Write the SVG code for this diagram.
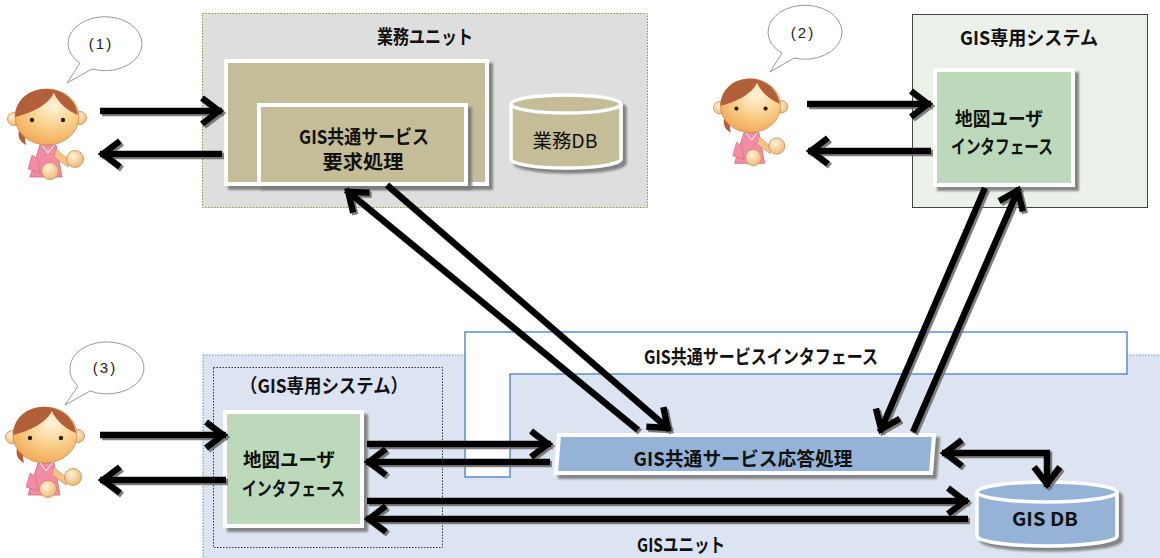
<svg xmlns="http://www.w3.org/2000/svg" xmlns:xlink="http://www.w3.org/1999/xlink" width="1160" height="558" viewBox="0 0 1160 558">
  <style>
    .t { font-family: "Noto Sans CJK JP", "Liberation Sans", sans-serif; font-weight: bold; font-size: 19px; fill: #111; dominant-baseline: central; }
    .c { text-anchor: middle; }
    .n { font-weight: normal; }
    .bub { font-family: "Liberation Sans", sans-serif; font-size: 15px; fill: #222; text-anchor: middle; dominant-baseline: central; letter-spacing: 2px; }
    .arrow { fill: none; stroke: #000; stroke-width: 6.5; marker-end: url(#ah); }
    .box { stroke: #fff; stroke-width: 4; filter: url(#boxsh); }
    .tan { fill: #c4bd97; }
    .green { fill: #bcd9bc; }
    .blue { fill: #95b3d7; }
    .bubble { fill: #fff; stroke: #9a9a9a; stroke-width: 1; }
  </style>
  <defs>
    <marker id="ah" viewBox="-26 -16 30 32" markerWidth="30" markerHeight="32" refX="0" refY="0" orient="auto-start-reverse" markerUnits="userSpaceOnUse" overflow="visible">
      <path d="M-20,-13 L-3,0 L-20,13" fill="none" stroke="#000" stroke-width="6.5"/>
    </marker>
    <filter id="arrsh" x="-10%" y="-10%" width="120%" height="120%">
      <feDropShadow dx="2" dy="2" stdDeviation="0.6" flood-color="#6f6f6f" flood-opacity="0.9"/>
    </filter>
    <filter id="boxsh" x="-10%" y="-10%" width="125%" height="130%">
      <feDropShadow dx="4" dy="4" stdDeviation="0.8" flood-color="#7a7a7a" flood-opacity="0.9"/>
    </filter>
    <radialGradient id="face" cx="0.6" cy="0.3" r="0.8">
      <stop offset="0" stop-color="#fff3dc"/>
      <stop offset="0.45" stop-color="#fbd28f"/>
      <stop offset="1" stop-color="#eea04a"/>
    </radialGradient>
    <radialGradient id="skin" cx="0.4" cy="0.35" r="0.7">
      <stop offset="0" stop-color="#fff1dc"/>
      <stop offset="1" stop-color="#efb66f"/>
    </radialGradient>
    <!-- cartoon user figure, about 85 x 92 -->
    <g id="girl">
      <path d="M16,38 C10,48 12,56 20,60 C18,52 20,46 22,42 Z" fill="#b2603a"/>
      <circle cx="8" cy="34" r="6.5" fill="url(#skin)" stroke="#c98a4c" stroke-width="0.8"/>
      <circle cx="74" cy="33" r="6.5" fill="url(#skin)" stroke="#c98a4c" stroke-width="0.8"/>
      <path d="M34,60 L50,60 L56,92 L24,92 Z" fill="#f28ca3" stroke="#d2637d" stroke-width="0.8"/>
      <path d="M36,60 L42,68 L48,60" fill="none" stroke="#fff" stroke-width="1"/>
      <path d="M50,64 L64,76 L62,82 L48,72 Z" fill="#f6c28a" stroke="#c98a4c" stroke-width="0.6"/>
      <path d="M26,70 L22,84 L34,88 L32,74 Z" fill="#f28ca3" stroke="#d2637d" stroke-width="0.6"/>
      <ellipse cx="41" cy="32" rx="32" ry="28" fill="url(#face)" stroke="#c98a4c" stroke-width="0.8"/>
      <path d="M9,32 C10,12 26,3 42,4 C58,5 70,15 72,30 C62,26 52,18 48,8 C42,20 26,28 9,32 Z" fill="#b2603a"/>
      <circle cx="26" cy="35" r="2.2" fill="#222"/>
      <circle cx="57" cy="35" r="2.2" fill="#222"/>
      <circle cx="69" cy="74" r="8.5" fill="url(#skin)" stroke="#c98a4c" stroke-width="0.8"/>
      <circle cx="44" cy="86" r="8.5" fill="url(#skin)" stroke="#c98a4c" stroke-width="0.8"/>
    </g>
  </defs>

  <rect width="1160" height="558" fill="#fff"/>

  <!-- GIS unit background region -->
  <g id="gis-unit">
    <rect x="203" y="355" width="962" height="210" fill="#dbe4f0" stroke="#5f8fcf" stroke-width="1" stroke-dasharray="1.5 1.5"/>
    <text class="t c" x="681" y="543" textLength="88" lengthAdjust="spacingAndGlyphs">GISユニット</text>
  </g>

  <!-- common service interface (L-shaped band) -->
  <g id="gis-interface">
    <path d="M465,332 H1127 V374 H510 V477 H465 Z" fill="#fff" stroke="#5b8fd0" stroke-width="1.5"/>
    <text class="t c" x="761" y="355" textLength="234" lengthAdjust="spacingAndGlyphs">GIS共通サービスインタフェース</text>
  </g>

  <!-- business unit -->
  <g id="business-unit">
    <rect x="202.5" y="13.5" width="445" height="194" fill="#dedede" stroke="#7f9a3c" stroke-width="1" stroke-dasharray="1.5 1.5"/>
    <text class="t c" x="425" y="35" textLength="96" lengthAdjust="spacingAndGlyphs">業務ユニット</text>
  </g>
  <g id="business-app">
    <rect class="box tan" x="226" y="61" width="261" height="123"/>
  </g>
  <g id="request-proc">
    <rect class="box tan" x="259" y="105" width="207" height="79"/>
    <text class="t c" x="364" y="135" textLength="130" lengthAdjust="spacingAndGlyphs">GIS共通サービス</text>
    <text class="t c" x="363" y="160" textLength="81" lengthAdjust="spacingAndGlyphs">要求処理</text>
  </g>
  <g id="business-db">
    <g filter="url(#boxsh)">
      <path d="M511,104 V159 A55,9 0 0 0 621,159 V104" class="tan" stroke="#fff" stroke-width="3.5"/>
      <ellipse cx="566" cy="104" rx="55" ry="9" class="tan" stroke="#fff" stroke-width="3.5"/>
    </g>
    <text class="t c n" x="565" y="139" textLength="65" lengthAdjust="spacingAndGlyphs">業務DB</text>
  </g>

  <!-- dedicated GIS system (top right) -->
  <g id="gis-system">
    <rect x="912.5" y="14.5" width="235" height="193" fill="#ebf1e9" stroke="#444" stroke-width="1"/>
    <text class="t c" x="1029" y="36" textLength="138" lengthAdjust="spacingAndGlyphs">GIS専用システム</text>
  </g>
  <g id="map-ui-top">
    <rect class="box green" x="935" y="70" width="138" height="115"/>
    <text class="t" x="955" y="117" textLength="88" lengthAdjust="spacingAndGlyphs">地図ユーザ</text>
    <text class="t" x="951" y="145" textLength="102" lengthAdjust="spacingAndGlyphs">インタフェース</text>
  </g>

  <!-- dedicated GIS system inside GIS unit -->
  <g id="gis-system-local">
    <rect x="213.5" y="367.5" width="229" height="180" fill="none" stroke="#333" stroke-width="1" stroke-dasharray="1.5 1.5"/>
    <text class="t c" x="324" y="384" textLength="168" lengthAdjust="spacingAndGlyphs">（GIS専用システム）</text>
  </g>
  <g id="map-ui-bottom">
    <rect class="box green" x="225" y="412" width="137" height="114"/>
    <text class="t" x="243" y="458" textLength="92" lengthAdjust="spacingAndGlyphs">地図ユーザ</text>
    <text class="t" x="242" y="487" textLength="103" lengthAdjust="spacingAndGlyphs">インタフェース</text>
  </g>

  <!-- response processing -->
  <g id="response-proc">
    <polygon class="box blue" points="559,435 934,435 931,473 556,473"/>
    <text class="t c" x="743" y="457" textLength="219" lengthAdjust="spacingAndGlyphs">GIS共通サービス応答処理</text>
  </g>

  <!-- GIS database -->
  <g id="gis-db">
    <g filter="url(#boxsh)">
      <path d="M977,492 V536 A70,10 0 0 0 1117,536 V492" class="blue" stroke="#fff" stroke-width="3.5"/>
      <ellipse cx="1047" cy="492" rx="70" ry="10" class="blue" stroke="#fff" stroke-width="3.5"/>
    </g>
    <text class="t c" x="1045" y="517" textLength="66" lengthAdjust="spacingAndGlyphs">GIS DB</text>
  </g>

  <!-- users with speech bubbles -->
  <g id="user-1">
    <use xlink:href="#girl" href="#girl" transform="translate(6,85)"/>
    <path class="bubble" d="M68,44 A37,27 0 1 1 92,69 L67,83 L80,63 A37,27 0 0 1 68,44 Z"/>
    <text class="bub" x="101" y="43">(1)</text>
  </g>
  <g id="user-2">
    <use xlink:href="#girl" href="#girl" transform="translate(712,75) scale(0.94,0.96)"/>
    <path class="bubble" d="M768,33 A37,27 0 1 1 794,58 L770,72 L782,53 A37,27 0 0 1 768,33 Z"/>
    <text class="bub" x="803" y="32">(2)</text>
  </g>
  <g id="user-3">
    <use xlink:href="#girl" href="#girl" transform="translate(4,403)"/>
    <path class="bubble" d="M70,368 A37,26 0 1 1 90,391 L65,405 L78,386 A37,26 0 0 1 70,368 Z"/>
    <text class="bub" x="105" y="367">(3)</text>
  </g>

  <!-- connectors -->
  <g id="connectors" filter="url(#arrsh)">
    <path class="arrow" d="M100,111 H222"/>
    <path class="arrow" d="M222,154 H100"/>
    <path class="arrow" d="M807,104 H931"/>
    <path class="arrow" d="M931,151 H808"/>
    <path class="arrow" d="M100,435 H226"/>
    <path class="arrow" d="M226,480 H100"/>
    <path class="arrow" d="M638,430 L346,190"/>
    <path class="arrow" d="M387,185 L670,430"/>
    <path class="arrow" d="M985,188 L880,432"/>
    <path class="arrow" d="M913,432 L1019,188"/>
    <path class="arrow" d="M367,444 H551"/>
    <path class="arrow" d="M550,462 H366"/>
    <path class="arrow" d="M367,501 H968"/>
    <path class="arrow" d="M968,519 H366"/>
    <path class="arrow" d="M942,453 H1047 V487" marker-start="url(#ah)"/>
  </g>
</svg>
